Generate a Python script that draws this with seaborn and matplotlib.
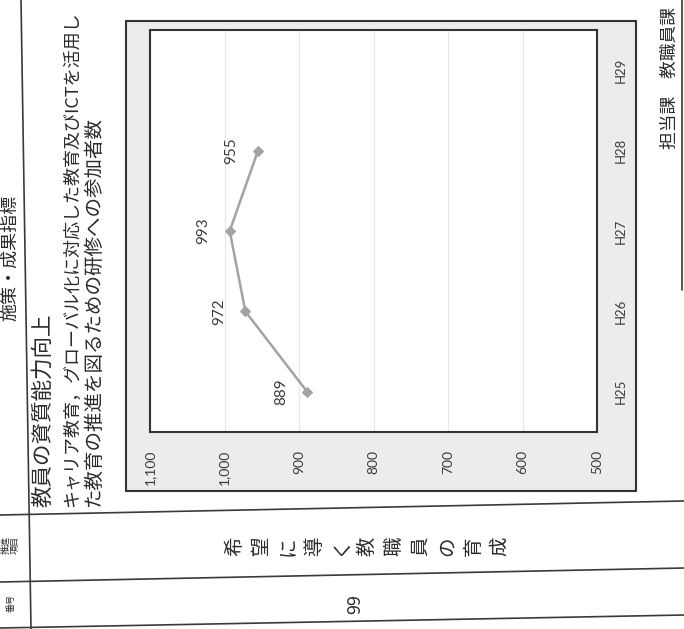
import numpy as np
import pandas as pd
import seaborn as sns
import matplotlib.pyplot as plt
from matplotlib.patches import Rectangle
from matplotlib.lines import Line2D

# data (the scanned page is turned 90 degrees, so values run right-to-left)
years = ["H25", "H26", "H27", "H28", "H29"]
participants = [889, 972, 993, 955, np.nan]
value_ticks = [1100, 1000, 900, 800, 700, 600, 500]
value_labels = ["1,100", "1,000", "900", "800", "700", "600", "500"]

header = "施策・成果指標"
title = "教員の資質能力向上"
desc_1 = "キャリア教育，グローバル化に対応した教育及びICTを活用し"
desc_2 = "た教育の推進を図るための研修への参加者数"
item = "希望に導く教職員の育成"
number = "99"
dept = "担当課　教職員課"

W, H = 684, 629


def fx(px):
    return px / W


def fy(py):
    return 1 - py / H


sns.set_style("white")
plt.rcParams["font.family"] = ["Noto Sans CJK JP", "DejaVu Sans"]
num_font = ["Lato", "DejaVu Sans"]
ink = "#2b2b2b"

fig = plt.figure(figsize=(6.84, 6.29), dpi=100)

# table lines of the page
for (x0, y0), (x1, y1) in [((21, 0), (31, 629)), ((0, 515), (684, 501)),
                           ((0, 582), (684, 568)), ((0, 628), (684, 615)),
                           ((682, 0), (682, 290))]:
    fig.add_artist(Line2D([fx(x0), fx(x1)], [fy(y0), fy(y1)], color="#3a3a3a",
                          lw=1.2, transform=fig.transFigure, zorder=-2))

# chart area (drawn behind the plot area)
fig.add_artist(Rectangle((fx(126), fy(491)), fx(636) - fx(126), fy(21) - fy(491),
                         transform=fig.transFigure, facecolor="#ececec",
                         edgecolor="#333333", lw=1.5, zorder=-1))

# plot area
ax = fig.add_axes([fx(150), fy(432), fx(597) - fx(150), fy(30) - fy(432)])
df = pd.DataFrame({"year": years, "pos": range(len(years)), "value": participants})
sns.lineplot(data=df.dropna(), x="value", y="pos", sort=False, estimator=None,
             marker="D", markersize=5, color="#a3a3a3", markeredgecolor="#a3a3a3",
             linewidth=1.8, ax=ax)

ax.set_facecolor("white")
ax.set_xlim(1100, 500)
ax.set_ylim(-0.5, 4.5)
ax.set_xticks(value_ticks)
ax.set_xticklabels(value_labels, rotation=90, fontsize=10, family=num_font, color="#3c3c3c")
ax.set_yticks(range(len(years)))
ax.set_yticklabels(years, rotation=90, fontsize=9.5, family=num_font, color="#3c3c3c",
                   va="center")
ax.yaxis.tick_right()
ax.tick_params(axis="x", length=0, pad=13)
ax.tick_params(axis="y", length=0, pad=13)
ax.set_xlabel("")
ax.set_ylabel("")
ax.grid(axis="x", color="#e6e6e6", lw=0.8)
ax.grid(axis="y", visible=False)
for s in ax.spines.values():
    s.set_color("#333333")
    s.set_linewidth(1.5)

for p, v in zip(df["pos"], df["value"]):
    if np.isnan(v):
        continue
    ax.annotate(f"{v:.0f}", (v, p), xytext=(-19, 0), textcoords="offset points",
                rotation=90, ha="center", va="center", fontsize=11,
                family=num_font, color="#3c3c3c")

# page text
fig.text(fx(10), fy(258), header, rotation=90, ha="center", va="center",
         fontsize=13, color=ink)
fig.text(fx(43), fy(507), title, rotation=90, ha="center", va="bottom",
         fontsize=15.5, color=ink)
fig.text(fx(72), fy(507), desc_1, rotation=90, ha="center", va="bottom",
         fontsize=13, color=ink)
fig.text(fx(93), fy(507), desc_2, rotation=90, ha="center", va="bottom",
         fontsize=14, color=ink)
fig.text(fx(11), fy(545), "推進\n項目", rotation=90, ha="center", va="center",
         fontsize=6.5, color=ink, linespacing=1.0)
fig.text(fx(11), fy(603), "番号", rotation=90, ha="center", va="center",
         fontsize=6.5, color=ink)
for i, ch in enumerate(item):
    fig.text(fx(235 + 26.5 * i), fy(546), ch, rotation=90, ha="center", va="center",
             fontsize=14, color=ink)
fig.text(fx(355), fy(604), number, rotation=90, ha="center", va="center",
         fontsize=13, color=ink)
fig.text(fx(670), fy(149), dept, rotation=90, ha="center", va="bottom",
         fontsize=12.8, color=ink)

fig.savefig("out.png", dpi=100, facecolor="white")
